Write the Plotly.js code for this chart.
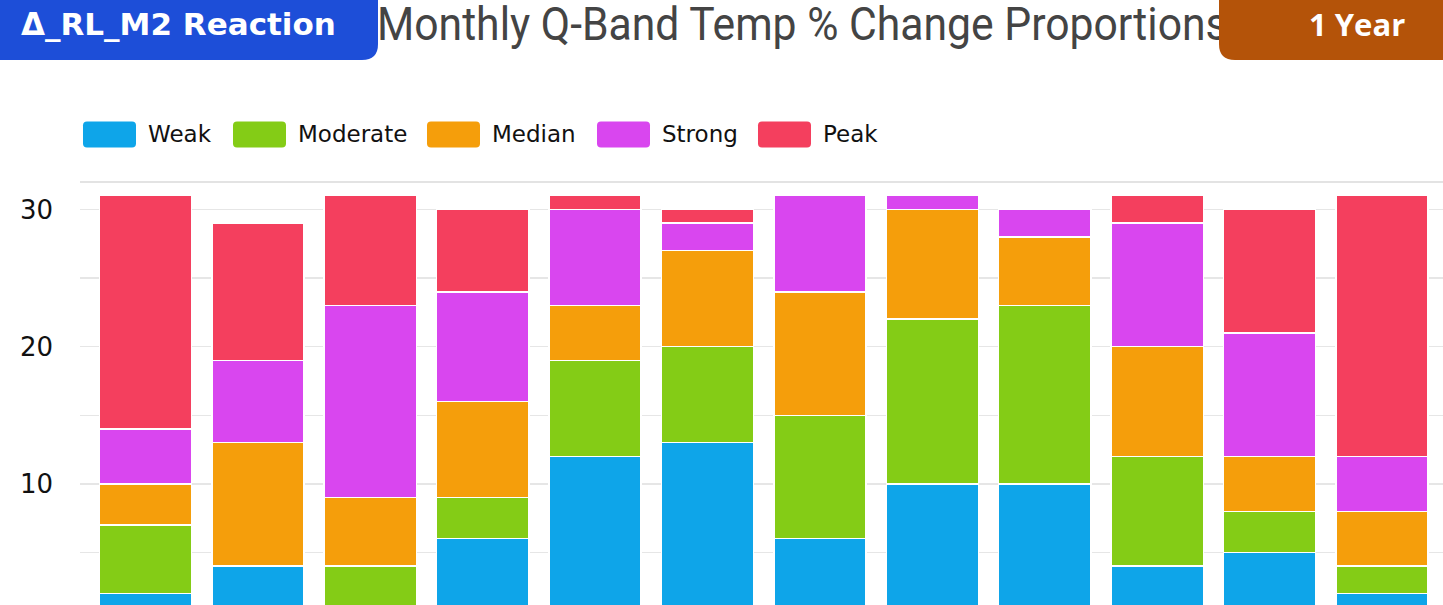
<!DOCTYPE html>
<html>
<head>
<meta charset="utf-8">
<script src="https://cdn.plot.ly/plotly-3.0.1.min.js"></script>
<style>
  html, body { margin: 0; padding: 0; background: #fff; overflow: hidden; }
  #chart { width: 1443px; height: 605px; }
</style>
</head>
<body>
<div id="chart"></div>
<script>
// ---- data ----
const months = ['Jan', 'Feb', 'Mar', 'Apr', 'May', 'Jun', 'Jul', 'Aug', 'Sep', 'Oct', 'Nov', 'Dec'];
const seriesNames = ['Weak', 'Moderate', 'Median', 'Strong', 'Peak'];
const weak     = [2, 4, 0, 6, 12, 13, 6, 10, 10, 4, 5, 2];
const moderate = [5, 0, 4, 3, 7, 7, 9, 12, 13, 8, 3, 2];
const median   = [3, 9, 5, 7, 4, 7, 9, 8, 5, 8, 4, 4];
const strong   = [4, 6, 14, 8, 7, 2, 7, 1, 2, 9, 9, 4];
const peak     = [17, 10, 8, 6, 1, 1, 0, 0, 0, 2, 9, 19];
const yTickVals = [10, 20, 30];
const titleText = 'Monthly Q-Band Temp % Change Proportions';
const leftBadgeText = 'Δ_RL_M2 Reaction';
const rightBadgeText = '1 Year';

// ---- styles ----
const colors = ['#0EA5E9', '#84CC16', '#F59E0B', '#D946EF', '#F43F5E'];
const seriesValues = [weak, moderate, median, strong, peak];

const W = 1443, H = 605;
const M = { l: 80, r: 0, t: 182, b: 0 };
const PW = W - M.l - M.r, PH = H - M.t - M.b;
const px2x = px => (px - M.l) / PW;
const py2y = py => (H - M.b - py) / PH;

function roundRectPath(x0, y0, x1, y1, r) {
  const P = (x, y) => px2x(x).toFixed(6) + ',' + py2y(y).toFixed(6);
  return 'M' + P(x0 + r.tl, y0) +
    ' L' + P(x1 - r.tr, y0) +
    ' Q' + P(x1, y0) + ' ' + P(x1, y0 + r.tr) +
    ' L' + P(x1, y1 - r.br) +
    ' Q' + P(x1, y1) + ' ' + P(x1 - r.br, y1) +
    ' L' + P(x0 + r.bl, y1) +
    ' Q' + P(x0, y1) + ' ' + P(x0, y1 - r.bl) +
    ' L' + P(x0, y0 + r.tl) +
    ' Q' + P(x0, y0) + ' ' + P(x0 + r.tl, y0) + ' Z';
}

const traces = seriesNames.map((name, i) => ({
  type: 'bar',
  name: name,
  x: months,
  y: seriesValues[i],
  marker: { color: colors[i], line: { color: '#ffffff', width: 1.5 } },
  showlegend: false,
  hoverinfo: 'x+y+name'
}));

const shapes = [];
const annotations = [];

// top border line
shapes.push({ type: 'line', xref: 'paper', yref: 'paper', x0: 0, x1: 1, y0: 1, y1: 1,
  line: { color: '#e3e3e3', width: 2 } });

// badges
shapes.push({ type: 'path', xref: 'paper', yref: 'paper', layer: 'above',
  path: roundRectPath(0, -2, 378, 60, { tl: 0, tr: 0, br: 16, bl: 0 }),
  fillcolor: '#1D4ED8', line: { width: 0 } });
shapes.push({ type: 'path', xref: 'paper', yref: 'paper', layer: 'above',
  path: roundRectPath(1219, -2, 1445, 60, { tl: 0, tr: 0, br: 0, bl: 16 }),
  fillcolor: '#B45309', line: { width: 0 } });

annotations.push({ xref: 'paper', yref: 'paper', x: px2x(19), y: py2y(23.5),
  xanchor: 'left', yanchor: 'middle', showarrow: false, text: leftBadgeText,
  font: { family: 'DejaVu Sans, sans-serif', size: 31, color: '#ffffff', weight: 700 } });
annotations.push({ xref: 'paper', yref: 'paper', x: px2x(1407), y: py2y(23.5),
  xanchor: 'right', yanchor: 'middle', showarrow: false, text: rightBadgeText,
  font: { family: 'Open Sans, sans-serif', size: 31, color: '#ffffff', weight: 700 } });

// custom legend
const legendSwatchLeft = [83, 233, 427, 597, 758];
seriesNames.forEach((name, i) => {
  const x0 = legendSwatchLeft[i];
  shapes.push({ type: 'path', xref: 'paper', yref: 'paper', layer: 'above',
    path: roundRectPath(x0, 121.5, x0 + 53, 147.5, { tl: 4, tr: 4, br: 4, bl: 4 }),
    fillcolor: colors[i], line: { width: 0 } });
  annotations.push({ xref: 'paper', yref: 'paper', x: px2x(x0 + 63), y: py2y(134),
    xanchor: 'left', yanchor: 'middle', showarrow: false, text: name,
    font: { family: 'DejaVu Sans, sans-serif', size: 23, color: '#111111' } });
});

const layout = {
  width: W, height: H,
  margin: M,
  barmode: 'stack',
  bargap: 0.18,
  paper_bgcolor: '#ffffff',
  plot_bgcolor: '#ffffff',
  showlegend: false,
  title: {
    text: titleText,
    xref: 'container', yref: 'container',
    x: 377 / W, xanchor: 'left',
    y: 1 - 24 / H, yanchor: 'middle',
    font: { family: 'Roboto, sans-serif', size: 46, color: '#444444' }
  },
  xaxis: {
    range: [-0.5827, 11.5427],
    showgrid: false, zeroline: false, showline: false,
    showticklabels: false
  },
  yaxis: {
    range: [1.17, 32],
    tickvals: yTickVals,
    showgrid: true, gridcolor: '#e6e6e6', gridwidth: 1.5,
    minor: { dtick: 5, tick0: 0, showgrid: true, gridcolor: '#e6e6e6', gridwidth: 1.5 },
    zeroline: false, showline: false,
    ticks: '',
    ticklabelstandoff: 26,
    tickfont: { family: 'DejaVu Sans, sans-serif', size: 26, color: '#111111' }
  },
  shapes: shapes,
  annotations: annotations
};

Plotly.newPlot('chart', traces, layout, { displayModeBar: false, staticPlot: true }).then(gd => {
  const title = gd.querySelector('.g-gtitle');
  const above = gd.querySelector('.layer-above');
  if (title) {
    // condense the title horizontally to the reference's condensed face width
    const t = title.querySelector('text');
    if (t) {
      const w = t.getComputedTextLength();
      const target = 851;
      if (w > 0) {
        const s = target / w;
        const x0 = parseFloat(t.getAttribute('x')) || 0;
        const prev = t.getAttribute('transform') || '';
        t.setAttribute('transform', prev + ' translate(' + (x0 * (1 - s)) + ',0) scale(' + s + ',1)');
      }
    }
    // let the right badge cover the end of the title, as in the reference
    if (above) above.parentNode.insertBefore(title, above);
  }
});
</script>
</body>
</html>
